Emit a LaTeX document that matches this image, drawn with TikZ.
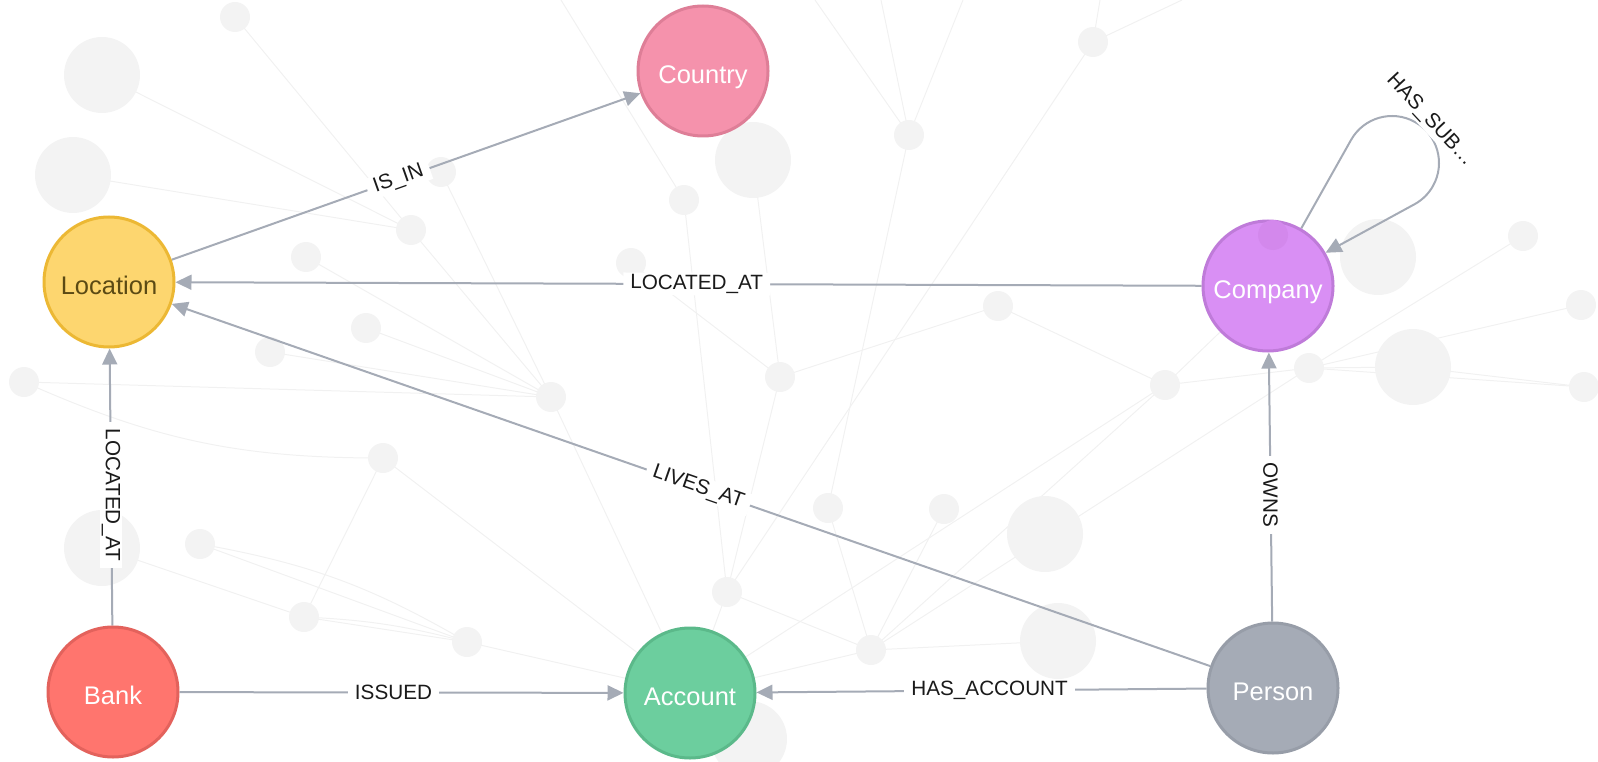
\documentclass[tikz,border=0pt]{standalone}
\usepackage{fontspec}
\setmainfont{Liberation Sans}
\usetikzlibrary{arrows.meta}
\pgfdeclarelayer{bg}
\pgfdeclarelayer{edges}
\pgfsetlayers{bg,edges,main}
\definecolor{edgegray}{HTML}{A5ABB6}
\definecolor{bgfillc}{HTML}{F3F3F3}
\definecolor{bglinec}{HTML}{F1F1F1}
\definecolor{labeltext}{HTML}{1A1A1A}
\definecolor{countryfill}{HTML}{F592AC}
\definecolor{countrydraw}{HTML}{DE7E97}
\definecolor{locfill}{HTML}{FDD66F}
\definecolor{locdraw}{HTML}{ECB834}
\definecolor{loctext}{HTML}{5B4A14}
\definecolor{compfill}{HTML}{D98FF4}
\definecolor{compdraw}{HTML}{BF7BD9}
\definecolor{compspot}{HTML}{D388EC}
\definecolor{bankfill}{HTML}{FF756E}
\definecolor{bankdraw}{HTML}{E3625C}
\definecolor{accfill}{HTML}{6CCE9E}
\definecolor{accdraw}{HTML}{5BB98A}
\definecolor{personfill}{HTML}{A5ABB6}
\definecolor{persondraw}{HTML}{979DA8}
\begin{document}
\begin{tikzpicture}[x=1pt,y=-1pt,
  gnode/.style={circle, minimum size=130pt, inner sep=0pt, line width=3pt,
    font=\fontsize{25.5}{30}\selectfont, text=white,
    text height=25pt, text depth=0pt},
  rel/.style={draw=edgegray, line width=2pt, -{Triangle[length=16pt,width=15pt]}},
  rlabel/.style={fill=white, inner xsep=7pt, inner ysep=2pt,
    font=\fontsize{20.7}{24}\selectfont, text=labeltext},
  bgline/.style={draw=bglinec, line width=1pt},
  bigdot/.style={fill=bgfillc},
  smalldot/.style={fill=bgfillc}
]
\useasboundingbox (0,0) rectangle (1598,762);

% main nodes
\node[gnode, fill=countryfill, draw=countrydraw] (country) at (703,71) {Country};
\node[gnode, fill=locfill, draw=locdraw, text=loctext] (loc) at (109,282) {Location};
\node[gnode, fill=compfill, draw=compdraw] (comp) at (1268,286) {Company};
\node[gnode, fill=bankfill, draw=bankdraw] (bank) at (113,692) {Bank};
\node[gnode, fill=accfill, draw=accdraw] (acc) at (690,693) {Account};
\node[gnode, fill=personfill, draw=persondraw] (person) at (1273,688) {Person};
\fill[compspot] (1273,235) circle (15pt);

% background coordinates
\coordinate (B1) at (102,75);
\coordinate (B2) at (73,175);
\coordinate (B3) at (753,160);
\coordinate (B4) at (1378,257);
\coordinate (B5) at (1413,367);
\coordinate (B6) at (1045,534);
\coordinate (B7) at (1058,641);
\coordinate (B8) at (102,548);
\coordinate (B9) at (749,739);
\coordinate (s1) at (235,17);
\coordinate (s2) at (411,230);
\coordinate (s3) at (441,172);
\coordinate (s4) at (306,257);
\coordinate (s5) at (366,328);
\coordinate (s6) at (270,352);
\coordinate (s7) at (24,382);
\coordinate (s8) at (551,397);
\coordinate (s9) at (684,200);
\coordinate (s10) at (631,263);
\coordinate (s11) at (780,377);
\coordinate (s12) at (1093,42);
\coordinate (s13) at (909,135);
\coordinate (s14) at (998,306);
\coordinate (s16) at (1523,236);
\coordinate (s17) at (1581,305);
\coordinate (s18) at (1309,368);
\coordinate (s19) at (1165,385);
\coordinate (s20) at (1584,387);
\coordinate (s21) at (383,458);
\coordinate (s22) at (200,544);
\coordinate (s23) at (304,617);
\coordinate (s24) at (467,642);
\coordinate (s25) at (727,592);
\coordinate (s26) at (828,508);
\coordinate (s27) at (944,509);
\coordinate (s28) at (871,650);
\coordinate (t1) at (561,0);
\coordinate (t2) at (815,0);
\coordinate (t3) at (881,0);
\coordinate (t4) at (963,0);
\coordinate (t5) at (1100,0);
\coordinate (t6) at (1182,0);

\begin{pgfonlayer}{bg}
  \draw[bgline] (s1) -- (s2);
  \draw[bgline] (B1) -- (s2);
  \draw[bgline] (B2) -- (s2);
  \draw[bgline] (s2) -- (s8);
  \draw[bgline] (s3) -- (s8);
  \draw[bgline] (s4) -- (s8);
  \draw[bgline] (s5) -- (s8);
  \draw[bgline] (s6) -- (s8);
  \draw[bgline] (s7) -- (s8);
  \draw[bgline] (s7) to[bend right=12] (s21);
  \draw[bgline] (t1) -- (s9);
  \draw[bgline] (s9) -- (s25);
  \draw[bgline] (B3) -- (s11);
  \draw[bgline] (s10) -- (s11);
  \draw[bgline] (t2) -- (s13);
  \draw[bgline] (t3) -- (s13);
  \draw[bgline] (t4) -- (s13);
  \draw[bgline] (s12) -- (t5);
  \draw[bgline] (s12) -- (t6);
  \draw[bgline] (s12) -- (s25);
  \draw[bgline] (s13) -- (s26);
  \draw[bgline] (s14) -- (s11);
  \draw[bgline] (s14) -- (s19);
  \draw[bgline] (s19) -- (comp.center);
  \draw[bgline] (s18) -- (B5);
  \draw[bgline] (s18) -- (s16);
  \draw[bgline] (s18) -- (s17);
  \draw[bgline] (s18) -- (s20);
  \draw[bgline] (B5) -- (s20);
  \draw[bgline] (s19) -- (s18);
  \draw[bgline] (s19) -- (s28);
  \draw[bgline] (s18) -- (s28);
  \draw[bgline] (s28) -- (B7);
  \draw[bgline] (s28) -- (s26);
  \draw[bgline] (s28) -- (s27);
  \draw[bgline] (s28) -- (s25);
  \draw[bgline] (s21) -- (s23);
  \draw[bgline] (s21) -- (acc.center);
  \draw[bgline] (s8) -- (acc.center);
  \draw[bgline] (s24) -- (acc.center);
  \draw[bgline] (s11) -- (s25);
  \draw[bgline] (s25) -- (acc.center);
  \draw[bgline] (s22) -- (s24);
  \draw[bgline] (s22) to[bend left=10] (s24);
  \draw[bgline] (B8) -- (s23);
  \draw[bgline] (s23) -- (s24);
  \draw[bgline] (s23) to[bend left=6] (s24);
  \draw[bgline] (s28) -- (acc.center);
  \draw[bgline] (s19) -- (acc.center);
  % background circles
  \foreach \c in {B1,B2,B3,B4,B5,B6,B7,B8,B9}
    \fill[bigdot] (\c) circle (38pt);
  \foreach \c in {s1,s2,s3,s4,s5,s6,s7,s8,s9,s10,s11,s12,s13,s14,s16,s17,s18,s19,s20,s21,s22,s23,s24,s25,s26,s27,s28}
    \fill[smalldot] (\c) circle (15pt);
\end{pgfonlayer}

\begin{pgfonlayer}{edges}
  \draw[rel] (loc) -- node[rlabel, sloped, pos=0.484] (lisin) {IS\_IN} (country);
  \draw[rel] (comp) -- node[rlabel, sloped, pos=0.492] (llocc) {LOCATED\_AT} (loc);
  \draw[rel] (person) -- node[rlabel, sloped, pos=0.493] (llives) {LIVES\_AT} (loc);
  \draw[rel] (bank) -- node[rlabel, rotate=-90, pos=0.471] (llocb) {LOCATED\_AT} (loc);
  \draw[rel] (bank) -- node[rlabel, pos=0.482] (lissued) {ISSUED} (acc);
  \draw[rel] (person) -- node[rlabel, pos=0.482] (lhas) {HAS\_ACCOUNT} (acc);
  \draw[rel] (person) -- node[rlabel, rotate=-90, pos=0.47] (lowns) {OWNS} (comp);
  \draw[rel] (comp.60) -- (1351,140) arc[start angle=209.3, end angle=420.7, radius=47] -- (comp.30);
  \node[rlabel, rotate=-47, inner xsep=3pt] (lsub) at (1430,120) {HAS\_SUB…};
\end{pgfonlayer}
\end{tikzpicture}
\end{document}
